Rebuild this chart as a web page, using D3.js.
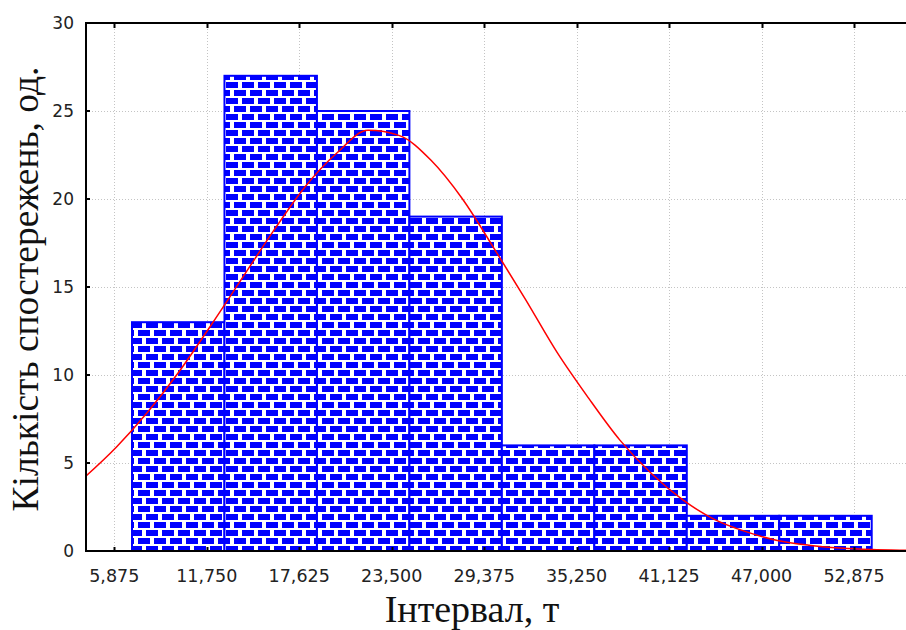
<!DOCTYPE html>
<html>
<head>
<meta charset="utf-8">
<script src="https://cdn.jsdelivr.net/npm/d3@7"></script>
<style>
  body { margin: 0; background: #fff; }
  svg { display: block; }
</style>
</head>
<body>
<svg id="chart"></svg>
<script>
// Histogram bins (lower edges) and observed counts
const binStarts = [7000, 12875, 18750, 24625, 30500, 36375, 42250, 48125];
const binWidth = 5875;
const counts = [13, 27, 25, 19, 6, 6, 2, 2];

// x tick values and y tick values
const xTicks = [5875, 11750, 17625, 23500, 29375, 35250, 41125, 47000, 52875];
const yTicks = [0, 5, 10, 15, 20, 25, 30];

// Fitted curve
const curveX = [4000, 6000, 8000, 10000, 12000, 14000, 16000, 18000, 20000, 22000, 24000, 26000,
                28000, 30000, 32000, 34000, 36000, 38000, 40000, 42000, 44000, 46000, 48000,
                50000, 52000, 54000, 56000, 58000];
const curveY = [4.2, 5.9, 7.9, 10.2, 12.8, 15.5, 18.2, 20.7, 22.6, 23.9, 23.6, 22.2,
                20.0, 17.2, 14.3, 11.3, 8.7, 6.3, 4.4, 2.9, 1.8, 1.1, 0.6,
                0.33, 0.17, 0.08, 0.04, 0.02];

const W = 906, H = 630;
const pLeft = 86, pTop = 23, pBottom = 551, pRight = 912;

const svg = d3.select('#chart').attr('width', W).attr('height', H);

const x = d3.scaleLinear().domain([4077, 56560]).range([pLeft, pRight]);
const y = d3.scaleLinear().domain([0, 30]).range([pBottom, pTop]);

// brick pattern: blue bricks, white mortar
const defs = svg.append('defs');
const pat = defs.append('pattern')
    .attr('id', 'bricks')
    .attr('patternUnits', 'userSpaceOnUse')
    .attr('width', 16).attr('height', 16);
pat.append('rect').attr('width', 16).attr('height', 16).attr('fill', '#fff');
[[2, 2], [10, 10], [-6, 10]].forEach(([bx, by]) => {
    pat.append('rect').attr('x', bx).attr('y', by)
        .attr('width', 12).attr('height', 6).attr('fill', '#0000ff');
});

defs.append('clipPath').attr('id', 'plotClip')
    .append('rect').attr('x', pLeft).attr('y', pTop)
    .attr('width', pRight - pLeft).attr('height', pBottom - pTop);

// grid
const grid = svg.append('g')
    .attr('stroke', '#c4c4c4')
    .attr('stroke-width', 1)
    .attr('stroke-dasharray', '1,2');
grid.selectAll('.vg').data(xTicks).join('line')
    .attr('x1', d => Math.round(x(d)) + 0.5).attr('x2', d => Math.round(x(d)) + 0.5)
    .attr('y1', pTop).attr('y2', pBottom);
grid.selectAll('.hg').data(yTicks.slice(1, -1)).join('line')
    .attr('x1', pLeft).attr('x2', pRight)
    .attr('y1', d => Math.round(y(d)) + 0.5).attr('y2', d => Math.round(y(d)) + 0.5);

// bars
svg.append('g').selectAll('rect')
    .data(counts)
    .join('rect')
    .attr('x', (d, i) => x(binStarts[i]))
    .attr('y', d => y(d))
    .attr('width', (d, i) => x(binStarts[i] + binWidth) - x(binStarts[i]))
    .attr('height', d => y(0) - y(d))
    .attr('fill', 'url(#bricks)')
    .attr('stroke', '#0000ff')
    .attr('stroke-width', 2);

// curve
const pts = curveX.map((v, i) => [v, curveY[i]]);
svg.append('path')
    .datum(pts)
    .attr('clip-path', 'url(#plotClip)')
    .attr('fill', 'none')
    .attr('stroke', '#ff0000')
    .attr('stroke-width', 1.5)
    .attr('d', d3.line().x(d => x(d[0])).y(d => y(d[1])).curve(d3.curveMonotoneX));

// frame: left, bottom, top
const frame = svg.append('g').attr('stroke', '#000').attr('stroke-width', 2);
frame.append('line').attr('x1', pLeft).attr('x2', pLeft).attr('y1', pTop - 1).attr('y2', pBottom + 1);
frame.append('line').attr('x1', pLeft).attr('x2', W).attr('y1', pBottom).attr('y2', pBottom);
frame.append('line').attr('x1', pLeft).attr('x2', W).attr('y1', pTop).attr('y2', pTop);

// ticks (inward)
frame.selectAll('.xtb').data(xTicks).join('line')
    .attr('x1', d => Math.round(x(d)) + 0.5).attr('x2', d => Math.round(x(d)) + 0.5)
    .attr('y1', pBottom).attr('y2', pBottom - 4);
frame.selectAll('.xtt').data(xTicks).join('line')
    .attr('x1', d => Math.round(x(d)) + 0.5).attr('x2', d => Math.round(x(d)) + 0.5)
    .attr('y1', pTop).attr('y2', pTop + 5);
frame.selectAll('.yt').data(yTicks).join('line')
    .attr('x1', pLeft).attr('x2', pLeft + 4)
    .attr('y1', d => y(d)).attr('y2', d => y(d));

// tick labels
const fmt = d3.format(',');
svg.append('g').selectAll('text').data(xTicks).join('text')
    .attr('x', d => x(d))
    .attr('y', 582)
    .attr('text-anchor', 'middle')
    .attr('font-family', 'DejaVu Sans, Verdana, sans-serif')
    .attr('font-size', 17.5)
    .attr('fill', '#222')
    .text(d => fmt(d));

svg.append('g').selectAll('text').data(yTicks).join('text')
    .attr('x', 74)
    .attr('y', d => y(d))
    .attr('dy', '0.36em')
    .attr('text-anchor', 'end')
    .attr('font-family', 'DejaVu Sans, Verdana, sans-serif')
    .attr('font-size', 17)
    .attr('fill', '#222')
    .text(d => d);

// axis titles
svg.append('text')
    .attr('x', 472).attr('y', 622)
    .attr('text-anchor', 'middle')
    .attr('font-family', 'Liberation Serif, Times New Roman, serif')
    .attr('font-size', 38)
    .attr('fill', '#111')
    .text('Інтервал, т');

svg.append('text')
    .attr('transform', 'translate(38,289) rotate(-90)')
    .attr('text-anchor', 'middle')
    .attr('font-family', 'Liberation Serif, Times New Roman, serif')
    .attr('font-size', 37.5)
    .attr('fill', '#111')
    .text('Кількість спостережень, од.');
</script>
</body>
</html>
